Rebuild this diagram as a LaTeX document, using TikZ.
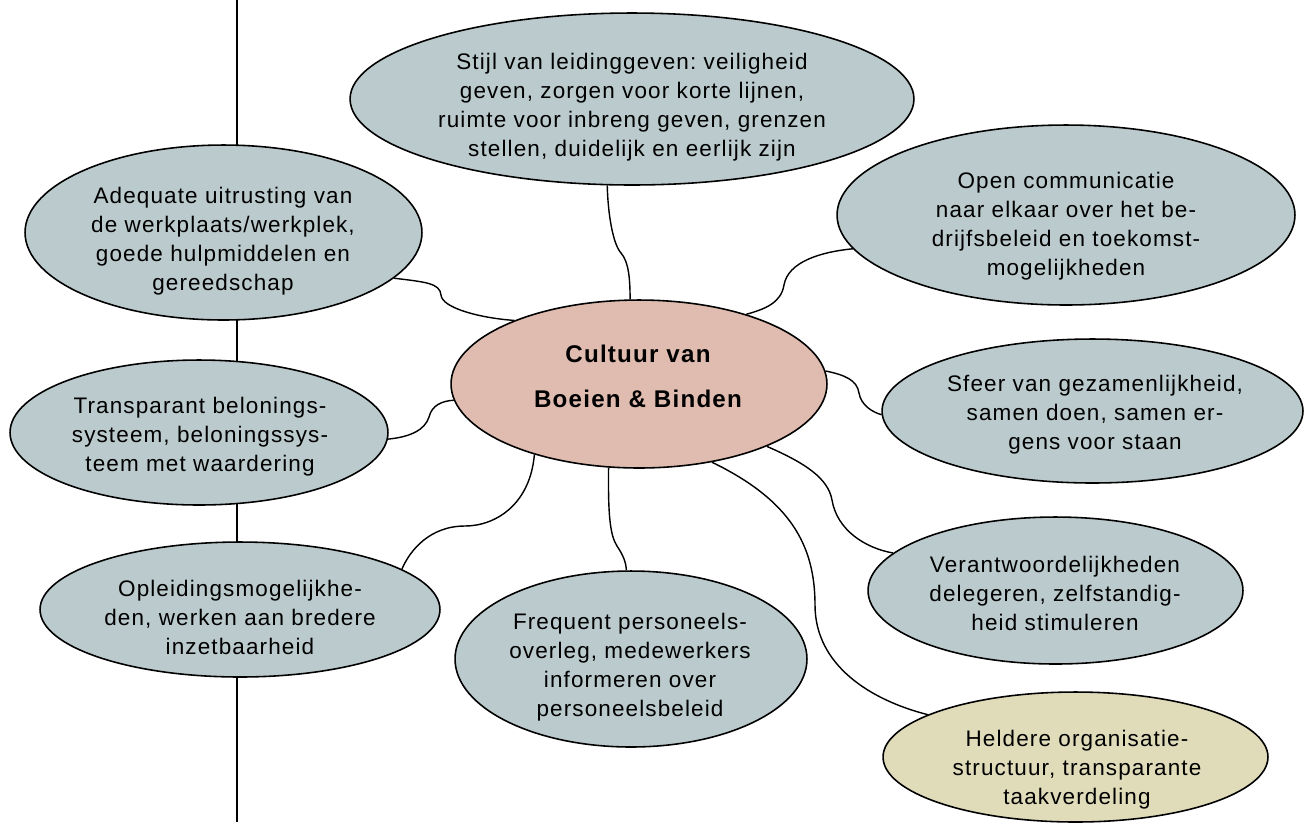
\documentclass[tikz,border=0pt]{standalone}
\usepackage{fontspec}
\usetikzlibrary{shapes.geometric}
\newfontfamily\lblfont{Liberation Sans}[LetterSpace=5]
\definecolor{bubblegray}{RGB}{187,202,204}
\definecolor{corepink}{RGB}{224,188,176}
\definecolor{sandbeige}{RGB}{224,220,186}
\frenchspacing

\begin{document}
\begin{tikzpicture}[x=0.02cm,y=-0.02cm,thick,
  bubble/.style={ellipse,draw,line width=0.9pt,fill=bubblegray,inner sep=0pt},
  txt/.style={align=center,inner sep=0pt,font=\lblfont\fontsize{12.8}{16.5}\selectfont}]
  \useasboundingbox (0,0) rectangle (1304,823);

  % spine
  \coordinate (vtop) at (237,0);
  \coordinate (vbot) at (237,822);
  \draw (vtop) -- (vbot);

  % centre
  \node[bubble,fill=corepink,minimum width=7.52cm,minimum height=3.36cm,at={(639,384)}] (cen) {};
  \node[txt,font=\lblfont\bfseries\fontsize{13.75}{25.6}\selectfont,at={(638,376)}] (cen-t) {Cultuur van\\Boeien \& Binden};

  % top
  \node[bubble,minimum width=11.28cm,minimum height=3.44cm,at={(632,99)}] (stijl) {};
  \node[txt,at={(632,107)}] (stijl-t) {Stijl van leidinggeven: veiligheid\\geven, zorgen voor korte lijnen,\\ruimte voor inbreng geven, grenzen\\stellen, duidelijk en eerlijk zijn};

  % left
  \node[bubble,minimum width=7.94cm,minimum height=3.5cm,at={(223.5,232.5)}] (adeq) {};
  \node[txt,at={(223,241)}] (adeq-t) {Adequate uitrusting van\\de werkplaats/werkplek,\\goede hulpmiddelen en\\gereedschap};
  \node[bubble,minimum width=7.56cm,minimum height=2.9cm,at={(199,432.5)}] (trans) {};
  \node[txt,at={(200,437)}] (trans-t) {Transparant belonings-\\systeem, beloningssys-\\teem met waardering};
  \node[bubble,minimum width=8.0cm,minimum height=2.7cm,at={(240,609.5)}] (opl) {};
  \node[txt,at={(240,617)}] (opl-t) {Opleidingsmogelijkhe-\\den, werken aan bredere\\inzetbaarheid};

  % bottom
  \node[bubble,minimum width=7.04cm,minimum height=3.52cm,at={(631,659)}] (freq) {};
  \node[txt,at={(630,667)}] (freq-t) {Frequent personeels-\\overleg, medewerkers\\informeren over\\personeelsbeleid};

  % right
  \node[bubble,minimum width=9.16cm,minimum height=3.6cm,at={(1066,215)}] (open) {};
  \node[txt,at={(1066,226)}] (open-t) {Open communicatie\\naar elkaar over het be-\\drijfsbeleid en toekomst-\\mogelijkheden};
  \node[bubble,minimum width=8.42cm,minimum height=2.88cm,at={(1092.5,411)}] (sfeer) {};
  \node[txt,at={(1095,415)}] (sfeer-t) {Sfeer van gezamenlijkheid,\\samen doen, samen er-\\gens voor staan};
  \node[bubble,minimum width=7.5cm,minimum height=2.94cm,at={(1055.5,590.5)}] (ver) {};
  \node[txt,at={(1055,593)}] (ver-t) {Verantwoordelijkheden\\delegeren, zelfstandig-\\heid stimuleren};
  \node[bubble,fill=sandbeige,minimum width=7.7cm,minimum height=2.6cm,at={(1075.5,757)}] (held) {};
  \node[txt,at={(1077,770)}] (held-t) {Heldere organisatie-\\structuur, transparante\\taakverdeling};

  % links
  \draw (cen.96) .. controls (630,280) and (629,262) .. (621,253) .. controls (613,244) and (608,215) .. (stijl.-106);
  \draw (adeq.-15) .. controls (425,282) and (440,283) .. (441,295) .. controls (442,308) and (480,318) .. (cen.153);
  \draw (trans.-2) .. controls (410,437) and (425,430) .. (429,417) .. controls (432,405) and (442,401) .. (cen.185);
  \draw (cen.-146) .. controls (530,505) and (495,526) .. (465,526) .. controls (430,526) and (410,550) .. (opl.14);
  \draw (cen.-110) .. controls (608,515) and (610,535) .. (617,546) .. controls (623,555) and (626,562) .. (freq.93);
  \draw (cen.-47) .. controls (790,500) and (815,545) .. (815,605) .. controls (815,665) and (870,700) .. (held.164);
  \draw (cen.-26) .. controls (805,463) and (828,478) .. (832,500) .. controls (837,530) and (865,548) .. (ver.167);
  \draw (cen.4) .. controls (845,375) and (857,380) .. (859,393) .. controls (861,405) and (872,412) .. (sfeer.181);
  \draw (cen.33) .. controls (765,309) and (781,303) .. (784,285) .. controls (788,262) and (820,252) .. (open.189);
\end{tikzpicture}
\end{document}
